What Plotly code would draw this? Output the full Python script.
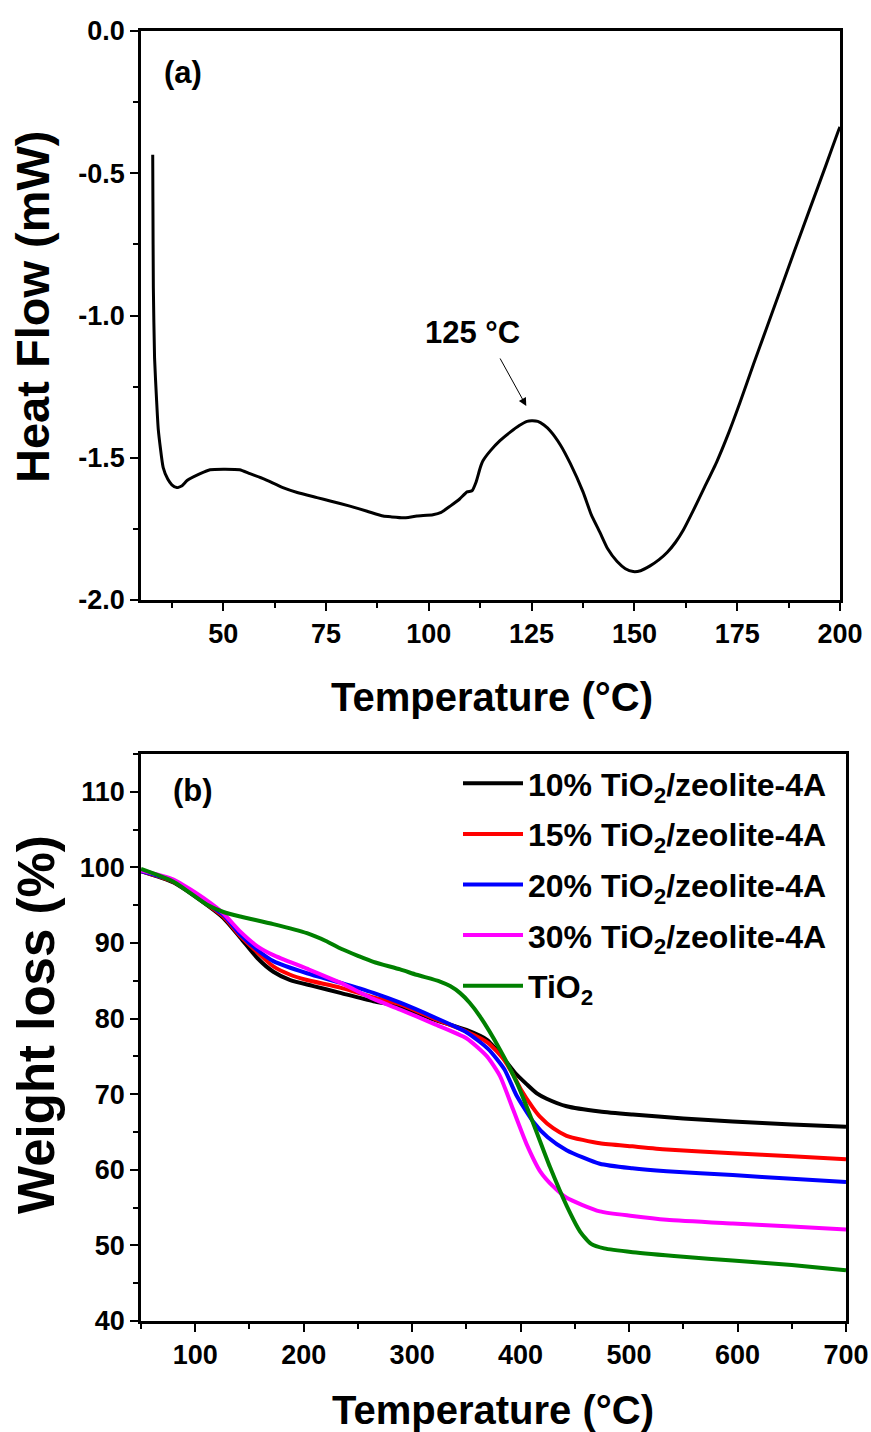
import plotly.graph_objects as go

# ---------------- Panel (a): DSC ----------------
dsc_temp = [32.85, 32.9, 33.0, 33.3, 33.8, 34.2, 35.4, 36.5, 37.5, 38.7, 40.0, 41.2, 44.4, 46.8,
            50, 54, 56.5, 60, 64.5, 68, 72.8, 76, 80.8, 85, 88.9, 91, 93.7, 95, 97.1, 101, 103,
            105.2, 107.5, 109.3, 110.5, 111.5, 112.5, 113.2, 115, 117.3, 119.8, 122, 123.9, 125,
            126.5, 128, 129.5, 132, 134.4, 137.5, 139.5, 141.7, 143.5, 145.8, 147.8, 149.7, 151.5,
            153.8, 156, 158, 160, 161.9, 164.3, 167, 170, 173, 175.7, 179, 182, 185.5, 189,
            192.8, 196.5, 199.5, 200]
dsc_heat = [-0.435, -0.6, -0.9, -1.15, -1.30, -1.40, -1.535, -1.575, -1.595, -1.605, -1.598, -1.58,
            -1.556, -1.542, -1.540, -1.542, -1.556, -1.575, -1.605, -1.622, -1.64, -1.652, -1.67,
            -1.688, -1.705, -1.708, -1.711, -1.710, -1.705, -1.700, -1.692, -1.67, -1.645, -1.62,
            -1.616, -1.585, -1.535, -1.51, -1.475, -1.44, -1.41, -1.387, -1.372, -1.370, -1.372,
            -1.385, -1.405, -1.455, -1.52, -1.62, -1.70, -1.765, -1.82, -1.865, -1.89, -1.900,
            -1.897, -1.88, -1.858, -1.832, -1.797, -1.754, -1.686, -1.605, -1.515, -1.41, -1.305,
            -1.17, -1.05, -0.91, -0.77, -0.62, -0.475, -0.355, -0.337]
dsc_yticks = [-2.0, -1.5, -1.0, -0.5, 0.0]
dsc_yticklabels = ["-2.0", "-1.5", "-1.0", "-0.5", "0.0"]
dsc_xticks = [50, 75, 100, 125, 150, 175, 200]

# ---------------- Panel (b): TGA ----------------
t10 = [50, 80, 111, 126, 141.6, 157, 172, 187.6, 209, 233.7, 264.3, 289, 319.6, 350, 369, 377,
       385, 395, 405.7, 415, 424, 442.4, 473, 503.4, 550, 595.5, 650, 700]
w10 = [99.5, 98.0, 95.0, 93.3, 90.7, 88.05, 86.2, 85.1, 84.3, 83.4, 82.3, 81.6, 79.9, 78.5, 77.2,
       76.0, 74.6, 72.8, 71.3, 70.1, 69.4, 68.4, 67.7, 67.3, 66.8, 66.4, 66.0, 65.7]

t15 = [50, 80, 111, 126, 141.6, 157, 172, 187.6, 203, 233.7, 264.3, 289, 320, 350, 370, 385, 393,
       400, 411.4, 418, 430, 442.4, 473, 503, 534.7, 595.5, 650, 700]
w15 = [99.5, 98.1, 95.1, 93.5, 90.9, 88.8, 86.9, 85.8, 85.1, 84.1, 82.8, 81.9, 80.0, 78.3, 76.8,
       74.5, 72.6, 70.7, 68.2, 67.0, 65.5, 64.5, 63.5, 63.1, 62.7, 62.2, 61.8, 61.4]

t20 = [50, 80, 111, 126, 141.6, 157, 172, 203, 233.7, 264.3, 289, 320, 350, 370, 385, 396, 411.4,
       425, 442.4, 473, 503, 534.7, 595.5, 650, 700]
w20 = [99.5, 98.2, 95.2, 93.7, 91.1, 89.1, 87.6, 86.0, 84.75, 83.4, 82.1, 80.2, 78.2, 76.0, 73.3,
       69.9, 66.4, 64.3, 62.6, 60.8, 60.2, 59.8, 59.3, 58.8, 58.4]

t30 = [50, 80, 111, 126, 141.6, 157, 172, 203, 233.7, 264.3, 289, 320, 350, 369, 381, 393, 405.5,
       418, 430, 442.4, 473, 503, 534.7, 595.5, 650, 700]
w30 = [99.6, 98.4, 95.6, 93.9, 91.5, 89.6, 88.4, 86.6, 84.75, 82.6, 81.2, 79.3, 77.4, 75.0, 72.4,
       68.0, 63.4, 59.8, 57.8, 56.3, 54.5, 53.9, 53.4, 52.9, 52.5, 52.1]

t_tio2 = [50, 80, 111, 126, 141.6, 172, 203, 220, 235, 250, 264.3, 289, 304, 325.7, 335, 344, 353,
          362.5, 381, 396.6, 411.5, 427, 442.6, 455, 465, 477, 503.4, 550, 595.5, 650, 700]
w_tio2 = [99.8, 98.1, 95.05, 94.1, 93.5, 92.5, 91.3, 90.3, 89.2, 88.3, 87.5, 86.5, 85.8, 84.9,
          84.3, 83.4, 82.1, 80.3, 75.9, 71.5, 66.2, 60.4, 55.2, 51.8, 50.2, 49.6, 49.1, 48.5,
          48.0, 47.4, 46.7]

tga_xticks = [100, 200, 300, 400, 500, 600, 700]
tga_yticks = [40, 50, 60, 70, 80, 90, 100, 110]

series_names = ["10% TiO<sub>2</sub>/zeolite-4A", "15% TiO<sub>2</sub>/zeolite-4A",
                "20% TiO<sub>2</sub>/zeolite-4A", "30% TiO<sub>2</sub>/zeolite-4A", "TiO<sub>2</sub>"]
series_colors = ["#000000", "#ff0000", "#0000ff", "#ff00ff", "#008000"]

FONT = "Liberation Sans"

fig = go.Figure()

fig.add_trace(go.Scatter(x=dsc_temp, y=dsc_heat, mode="lines",
                         line=dict(color="black", width=3, shape="spline", smoothing=0.5),
                         xaxis="x", yaxis="y", showlegend=False))

tga_x = [t10, t15, t20, t30, t_tio2]
tga_y = [w10, w15, w20, w30, w_tio2]
for i in range(5):
    fig.add_trace(go.Scatter(x=tga_x[i], y=tga_y[i], mode="lines", name=series_names[i],
                             legendgroup=str(i),
                             line=dict(color=series_colors[i], width=4, shape="spline", smoothing=0.6),
                             xaxis="x2", yaxis="y2"))

W, H = 871, 1432
tickfont = dict(family=FONT, size=27, color="black", weight="bold")
minor_style = dict(ticks="outside", ticklen=5, tickwidth=2, tickcolor="black")
common = dict(showline=True, linecolor="black", linewidth=2.5, mirror=True, ticks="outside",
              ticklen=8, tickwidth=2, tickcolor="black", showgrid=False, zeroline=False,
              tickfont=tickfont, automargin=False)


def bold(labels):
    return ["<b>%s</b>" % s for s in labels]


fig.update_layout(
    width=W, height=H,
    margin=dict(l=0, r=0, t=0, b=0, autoexpand=False),
    paper_bgcolor="white", plot_bgcolor="white",
    xaxis=dict(domain=[141 / W, 840 / W], anchor="y", range=[30, 200],
               tickvals=dsc_xticks, ticktext=bold([str(v) for v in dsc_xticks]),
               minor=dict(tickvals=[37.5, 62.5, 87.5, 112.5, 137.5, 162.5, 187.5], **minor_style), **common),
    yaxis=dict(domain=[1 - 600 / H, 1 - 31 / H], anchor="x", range=[-2.0, 0.0],
               tickvals=dsc_yticks, ticktext=bold(dsc_yticklabels),
               minor=dict(tickvals=[-1.75, -1.25, -0.75, -0.25], **minor_style), **common),
    xaxis2=dict(domain=[141 / W, 846 / W], anchor="y2", range=[50, 700],
                tickvals=tga_xticks, ticktext=bold([str(v) for v in tga_xticks]),
                minor=dict(tickvals=[50, 150, 250, 350, 450, 550, 650], **minor_style), **common),
    yaxis2=dict(domain=[1 - 1321 / H, 1 - 754 / H], anchor="x2", range=[40, 115],
                tickvals=tga_yticks, ticktext=bold([str(v) for v in tga_yticks]),
                minor=dict(tickvals=[45, 55, 65, 75, 85, 95, 105, 115], **minor_style), **common),
    legend=dict(x=458 / W, y=1 - 756 / H, xanchor="left", yanchor="top", bgcolor="rgba(0,0,0,0)",
                font=dict(family=FONT, size=32, color="black", weight="bold"),
                itemwidth=60, tracegroupgap=6),
    showlegend=True,
)

ann_font = dict(family=FONT, color="black", weight="bold")
C = dict(xref="paper", yref="paper", showarrow=False, xanchor="center", yanchor="middle")
annotations = [
    dict(text="Heat Flow (mW)", x=32 / W, y=1 - 307 / H, textangle=-90, font=dict(size=47, **ann_font), **C),
    dict(text="Temperature (°C)", x=492 / W, y=1 - 697 / H, font=dict(size=40, **ann_font), **C),
    dict(text="Weight loss (%)", x=36 / W, y=1 - 1025 / H, textangle=-90, font=dict(size=51, **ann_font), **C),
    dict(text="Temperature (°C)", x=493 / W, y=1 - 1410 / H, font=dict(size=40, **ann_font), **C),
    dict(text="(a)", x=183 / W, y=1 - 72 / H, font=dict(size=31, **ann_font), **C),
    dict(text="(b)", x=193 / W, y=1 - 790 / H, font=dict(size=31, **ann_font), **C),
    dict(text="125 °C", x=472 / W, y=1 - 332 / H, font=dict(size=31, **ann_font), **C),
    dict(text="", x=123.7, y=-1.318, xref="x", yref="y", showarrow=True, ax=-27, ay=-49,
         arrowhead=2, arrowsize=1.6, arrowwidth=1, arrowcolor="black"),
]
fig.update_layout(annotations=annotations)

fig.write_html("out.html")
